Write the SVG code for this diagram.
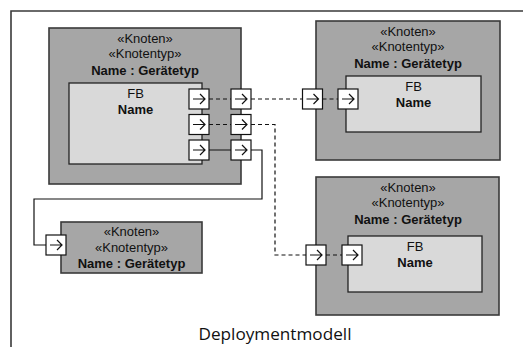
<svg xmlns="http://www.w3.org/2000/svg" xmlns:xlink="http://www.w3.org/1999/xlink" width="523" height="347" viewBox="0 0 523 347">
<style>
.node{fill:#a6a6a6;stroke:#3a3a3a;stroke-width:1.6}
.fb{fill:#d9d9d9;stroke:#222;stroke-width:1.3}
.t{font-family:"Liberation Sans",Arial,sans-serif;font-size:13px;fill:#111;text-anchor:middle}
.b{font-weight:bold}
.con{fill:none;stroke:#111;stroke-width:1.2}
.dash{stroke-dasharray:4,3}
.frame{fill:none;stroke:#3a3a3a;stroke-width:1.6}
.cap{font-family:"Open Sans","Lato",sans-serif;font-size:16px;fill:#111;text-anchor:middle}
</style>
<defs>
<symbol id="port" viewBox="0 0 20 20" width="20" height="20" overflow="visible">
<rect x="0" y="0" width="20" height="20" fill="#fff" stroke="#111" stroke-width="1.2"/>
<path d="M4,10 H16 M11,5 L16,10 L11,15" fill="none" stroke="#111" stroke-width="1.2"/>
</symbol>
</defs>
<path class="frame" d="M11,347 V11 H523"/>
<g id="node1">
<rect class="node" x="49" y="28" width="192" height="156"/>
<text class="t" x="145" y="42.5">«Knoten»</text>
<text class="t" x="145" y="58">«Knotentyp»</text>
<text class="t b" x="145" y="74.5">Name : Gerätetyp</text>
<g id="fb1">
<rect class="fb" x="69" y="83" width="133" height="81"/>
<text class="t" x="135.5" y="97.5">FB</text>
<text class="t b" x="135.5" y="113.5">Name</text>
</g>
</g>
<g id="node2">
<rect class="node" x="316" y="21" width="184" height="139"/>
<text class="t" x="408" y="35.5">«Knoten»</text>
<text class="t" x="408" y="51">«Knotentyp»</text>
<text class="t b" x="408" y="67.5">Name : Gerätetyp</text>
<g id="fb2">
<rect class="fb" x="346" y="76" width="135" height="56"/>
<text class="t" x="413.5" y="90.5">FB</text>
<text class="t b" x="413.5" y="106.5">Name</text>
</g>
</g>
<g id="node3">
<rect class="node" x="316" y="177" width="183" height="138"/>
<text class="t" x="408" y="191.5">«Knoten»</text>
<text class="t" x="408" y="207">«Knotentyp»</text>
<text class="t b" x="408" y="223.5">Name : Gerätetyp</text>
<g id="fb3">
<rect class="fb" x="348" y="236" width="134" height="56"/>
<text class="t" x="415" y="250.5">FB</text>
<text class="t b" x="415" y="266.5">Name</text>
</g>
</g>
<g id="node4">
<rect class="node" x="61" y="222" width="141" height="51"/>
<text class="t" x="131.5" y="236">«Knoten»</text>
<text class="t" x="131.5" y="251.5">«Knotentyp»</text>
<text class="t b" x="131.5" y="268">Name : Gerätetyp</text>
</g>
<g id="connectors">
<path class="con dash" d="M209,99 H231 M251,99 H302.5 M322.5,99 H338"/>
<path class="con dash" d="M209,124.5 H231 M251,124.5 H275 V255 H306 M326,255 H342"/>
<path class="con" d="M209,150 H231 M251,150 H262 V199 H34 V245 H46"/>
</g>
<g id="ports">
<use xlink:href="#port" x="189" y="89"/>
<use xlink:href="#port" x="189" y="114.5"/>
<use xlink:href="#port" x="189" y="140"/>
<use xlink:href="#port" x="231" y="89"/>
<use xlink:href="#port" x="231" y="114.5"/>
<use xlink:href="#port" x="231" y="140"/>
<use xlink:href="#port" x="302.5" y="89"/>
<use xlink:href="#port" x="338" y="89"/>
<use xlink:href="#port" x="306" y="245"/>
<use xlink:href="#port" x="342" y="245"/>
<use xlink:href="#port" x="46" y="235"/>
</g>
<text class="cap" x="275" y="340" textLength="153" lengthAdjust="spacingAndGlyphs">Deploymentmodell</text>
</svg>
